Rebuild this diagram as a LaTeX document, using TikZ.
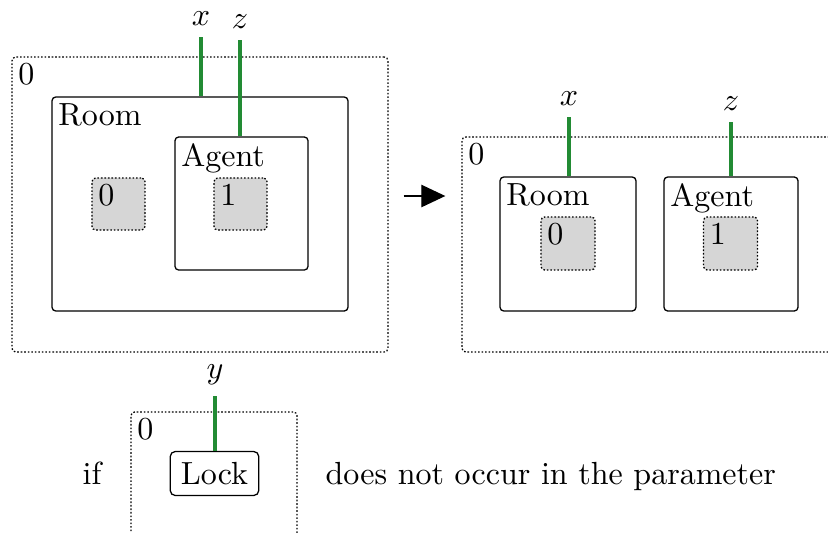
\documentclass[tikz,border=0pt]{standalone}
\usepackage{xcolor}
\usepackage{tikz}
\usetikzlibrary{
    arrows.meta,
    positioning
}

\definecolor{wiregreen}{RGB}{34,139,52}
\definecolor{holegray}{RGB}{214,214,214}

\begin{document}
\begin{tikzpicture}[
        x=0.3125pt,
        y=-0.3125pt,
        node distance=8pt,
        region/.style={
            rectangle,
            rounded corners=1.2pt,
            draw,
            dash pattern=on 0.5pt off 0.6pt,
            inner sep=0pt
        },
        cell/.style={
            rectangle,
            rounded corners=1.2pt,
            draw,
            inner sep=0pt
        },
        hole/.style={
            region,
            fill=holegray
        },
        tag/.style={
            anchor=north west,
            inner sep=2pt
        },
        port/.style={
            anchor=south
        },
        wire/.style={
            wiregreen,
            line width=1.1pt
        },
        line/.style={
            -{Triangle[length=7.5pt,width=7pt]}
        }
    ]

    \clip (0,0) rectangle (828,532);

    % left hand side
    \node[region, minimum width=117.5pt, minimum height=92.2pt] (lhs) at (200,204.5) {};
    \node[tag] (lhstag) at (lhs.north west) {0};

    \node[cell, minimum width=92.5pt, minimum height=66.9pt] (roomL) at (200,204) {};
    \node[tag] (roomLtag) at (roomL.north west) {Room};

    \node[cell, minimum width=41.6pt, minimum height=41.6pt] (agentL) at (241.5,203.5) {};
    \node[tag] (agentLtag) at (agentL.north west) {Agent};

    \node[hole, minimum width=16.6pt, minimum height=16.3pt] (holeL0) at (118.5,204) {};
    \node[tag] (holeL0tag) at (holeL0.north west) {0};

    \node[hole, minimum width=16.6pt, minimum height=16.3pt] (holeL1) at (240.5,204) {};
    \node[tag] (holeL1tag) at (holeL1.north west) {1};

    \node[port] (xL) at (201,37) {$x$};
    \node[port] (zL) at (240,40) {$z$};

    \draw[wire] (xL.south) -- (xL.south |- roomL.north);
    \draw[wire] (zL.south) -- (zL.south |- agentL.north);

    % right hand side
    \node[region, minimum width=136.9pt, minimum height=67.2pt] (rhs) at (681,244.5) {};
    \node[tag] (rhstag) at (rhs.north west) {0};

    \node[cell, minimum width=42.5pt, minimum height=41.9pt] (roomR) at (568,244) {};
    \node[tag] (roomRtag) at (roomR.north west) {Room};

    \node[cell, minimum width=41.9pt, minimum height=41.9pt] (agentR) at (731,244) {};
    \node[tag] (agentRtag) at (agentR.north west) {Agent};

    \node[hole, minimum width=16.9pt, minimum height=16.6pt] (holeR0) at (568,243.5) {};
    \node[tag] (holeR0tag) at (holeR0.north west) {0};

    \node[hole, minimum width=16.9pt, minimum height=16.6pt] (holeR1) at (730.5,243.5) {};
    \node[tag] (holeR1tag) at (holeR1.north west) {1};

    \node[port] (xR) at (569,117) {$x$};
    \node[port] (zR) at (731,122) {$z$};

    \draw[wire] (xR.south) -- (xR.south |- roomR.north);
    \draw[wire] (zR.south) -- (zR.south |- agentR.north);

    \draw[line, shorten <=4.7pt, shorten >=5pt]
        (lhs.east |- 0,196)
        --
        (rhs.west |- 0,196);

    % side condition
    \node[region, minimum width=51.9pt, minimum height=41.6pt] (cond) at (214,478.5) {};
    \node[tag] (condtag) at (cond.north west) {0};

    \node[cell, rounded corners=1.5pt, inner sep=3.33pt] (lock) at (214.5,473.5) {Lock};

    \node[port] (yC) at (215,396) {$y$};
    \draw[wire] (yC.south) -- (yC.south |- lock.north);

    \node[anchor=base, inner sep=0pt] (iftext) at (92,484) {if};
    \node[anchor=base west, inner sep=0pt] (resttext) at (325,484) {does not occur in the parameter};

\end{tikzpicture}
\end{document}
